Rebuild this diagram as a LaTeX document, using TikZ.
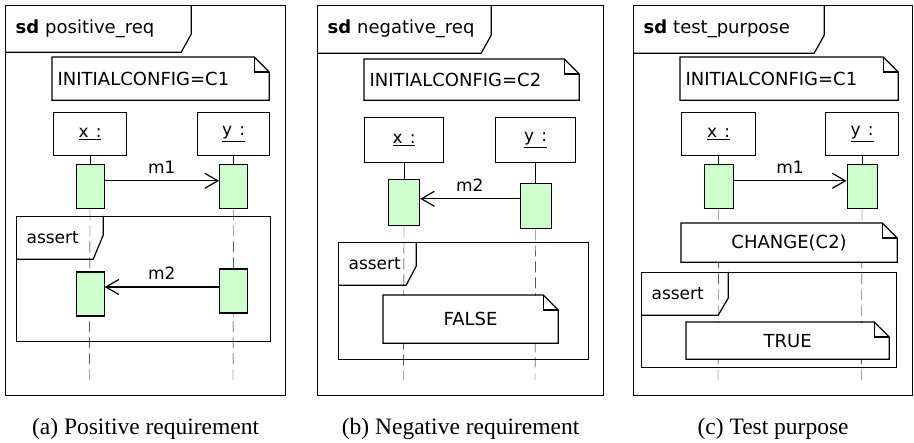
\documentclass[tikz,border=0pt]{standalone}
\usepackage{fontspec}
\setmainfont{Liberation Serif}
\newfontfamily\umlfont{DejaVu Sans}
\usetikzlibrary{positioning,arrows.meta,backgrounds}
\definecolor{actgreen}{RGB}{204,255,204}
% cut corner of a frame tab
\newcommand{\tabcut}[2]{\draw (#1.south west) -- ([xshift=-10pt]#1.south east) -- ([yshift=#2]#1.south east) -- (#1.north east);}
% outline of a note with folded corner
\newcommand{\notefold}[1]{\draw (#1.south west) -- (#1.north west) -- ([xshift=-15pt]#1.north east) -- ([yshift=-15pt]#1.north east) -- (#1.south east) -- cycle;
  \draw ([xshift=-15pt]#1.north east) |- ([yshift=-15pt]#1.north east);}

\begin{document}
\begin{tikzpicture}[x=1pt, y=-1pt, line width=1.2pt,
            frame/.style={draw, anchor=north west, inner sep=0pt},
            tab/.style={anchor=north west, inner xsep=10pt, inner ysep=0pt, align=left, font=\umlfont\fontsize{18}{21}\selectfont},
            note/.style={anchor=north west, fill=white, inner xsep=5pt, inner ysep=0pt, font=\umlfont\fontsize{18}{21}\selectfont},
            obj/.style={draw, anchor=north west, minimum height=43pt, font=\umlfont\fontsize{17}{20}\selectfont},
            act/.style={draw, fill=actgreen, minimum width=28pt, minimum height=44pt, inner sep=0pt},
            msg/.style={-{Straight Barb[length=13pt,width=15pt]}},
            life/.style={dash pattern=on 11pt off 5pt},
            lbl/.style={font=\umlfont\fontsize{17}{20}\selectfont, inner sep=2pt},
            caption/.style={font=\fontsize{23.5}{28}\selectfont}
        ]
            \useasboundingbox (0,0) rectangle (914,443);

            % (a) positive requirement
            \node[frame, minimum width=280pt, minimum height=390pt] (sdA) at (5,5) {};
            \node[tab, text width=165pt, minimum height=46pt] (tabA) at (5,5) {\textbf{sd} positive\_req};
            \tabcut{tabA}{18pt}
            \node[note, text width=206pt, minimum height=42pt, align=left] (initA) at (52,57) {INITIALCONFIG=C1};
            \notefold{initA}
            \node[obj, minimum width=73pt] (xA) at (53,112) {\underline{x\hspace{7pt}:}};
            \node[obj, minimum width=72pt] (yA) at (197,112) {\underline{y\hspace{7pt}:}};
            \node[act, below=8pt of xA] (actXA1) {};
            \node[act, below=8pt of yA] (actYA1) {};
            \draw[msg] ([yshift=6pt]actXA1.east) -- node[lbl, above=5pt] {m1} ([yshift=6pt]actYA1.west);
            \node[frame, minimum width=254pt, minimum height=125pt] (altA) at (16,216) {};
            \node[tab, text width=66pt, minimum height=42pt, font=\umlfont\fontsize{17}{20}\selectfont] (assertA) at (16,216) {assert};
            \tabcut{assertA}{24pt}
            \node[act, below=62pt of actXA1] (actXA2) {};
            \node[act, below=59pt of actYA1] (actYA2) {};
            \draw[msg] ([yshift=4pt]actYA2.west) -- node[lbl, above=5pt] {m2} ([yshift=4pt]actYA2.west -| actXA2.east);
            \coordinate (xAend) at (89.5,382);
            \coordinate (yAend) at (233,382);
            \node[caption, below=18pt of sdA] (capA) {(a) Positive requirement};

            % (b) negative requirement
            \node[frame, minimum width=286pt, minimum height=390pt] (sdB) at (317,5) {};
            \node[tab, text width=153pt, minimum height=47pt] (tabB) at (317,5) {\textbf{sd} negative\_req};
            \tabcut{tabB}{18pt}
            \node[note, text width=204pt, minimum height=40pt, align=left] (initB) at (364,59) {INITIALCONFIG=C2};
            \notefold{initB}
            \node[obj, minimum width=79pt, minimum height=45pt] (xB) at (364,117) {\underline{x\hspace{7pt}:}};
            \node[obj, minimum width=80pt, minimum height=45pt] (yB) at (495,117) {\underline{y\hspace{7pt}:}};
            \node[act, minimum width=31pt, minimum height=46pt, below=16pt of xB] (actXB1) {};
            \node[act, minimum width=31pt, minimum height=45pt, below=20pt of yB] (actYB1) {};
            \draw[msg] ([yshift=7.5pt]actYB1.west) -- node[lbl, above=5pt] {m2} ([yshift=7.5pt]actYB1.west -| actXB1.east);
            \node[frame, minimum width=250pt, minimum height=117pt] (altB) at (338,242) {};
            \node[tab, text width=57pt, minimum height=42pt, font=\umlfont\fontsize{17}{20}\selectfont] (assertB) at (338,242) {assert};
            \tabcut{assertB}{19pt}
            \node[note, text width=164pt, minimum height=47pt, align=center] (falseB) at (383,295) {FALSE};
            \notefold{falseB}
            \coordinate (xBend) at (403.5,380);
            \coordinate (yBend) at (535,380);
            \node[caption, below=18pt of sdB] (capB) {(b) Negative requirement};

            % (c) test purpose
            \node[frame, minimum width=279pt, minimum height=390pt] (sdC) at (633,5) {};
            \node[tab, text width=170pt, minimum height=47pt] (tabC) at (633,5) {\textbf{sd} test\_purpose};
            \tabcut{tabC}{18pt}
            \node[note, text width=207pt, minimum height=42pt, align=left] (initC) at (680,57) {INITIALCONFIG=C1};
            \notefold{initC}
            \node[obj, minimum width=74pt] (xC) at (681,112) {\underline{x\hspace{7pt}:}};
            \node[obj, minimum width=73pt] (yC) at (825,112) {\underline{y\hspace{7pt}:}};
            \node[act, minimum width=29pt, below=8pt of xC] (actXC1) {};
            \node[act, minimum width=30pt, below=8pt of yC] (actYC1) {};
            \draw[msg] ([yshift=6pt]actXC1.east) -- node[lbl, above=5pt] {m1} ([yshift=6pt]actYC1.west);
            \node[note, text width=205pt, minimum height=38pt, align=center] (changeC) at (681,223) {CHANGE(C2)};
            \notefold{changeC}
            \node[frame, minimum width=255pt, minimum height=95pt] (altC) at (641,272) {};
            \node[tab, text width=66pt, minimum height=42pt, font=\umlfont\fontsize{17}{20}\selectfont] (assertC) at (641,272) {assert};
            \tabcut{assertC}{17pt}
            \node[note, text width=192pt, minimum height=36pt, align=center] (trueC) at (686,322) {TRUE};
            \notefold{trueC}
            \coordinate (xCend) at (718,382);
            \coordinate (yCend) at (861.5,382);
            \node[caption, below=18pt of sdC] (capC) {(c) Test purpose};

            % Lifelines
            \begin{scope}[on background layer]
                \draw (xA) -- (actXA1);
                \draw (yA) -- (actYA1);
                \draw[life] (actXA1) -- (xAend);
                \draw[life] (actYA1) -- (yAend);
                \draw (xB) -- (actXB1);
                \draw (yB) -- (actYB1);
                \draw[life] (actXB1) -- (xBend);
                \draw[life] (actYB1) -- (yBend);
                \draw (xC) -- (actXC1);
                \draw (yC) -- (actYC1);
                \draw[life] (actXC1) -- (xCend);
                \draw[life] (actYC1) -- (yCend);
            \end{scope}
        \end{tikzpicture}
\end{document}
